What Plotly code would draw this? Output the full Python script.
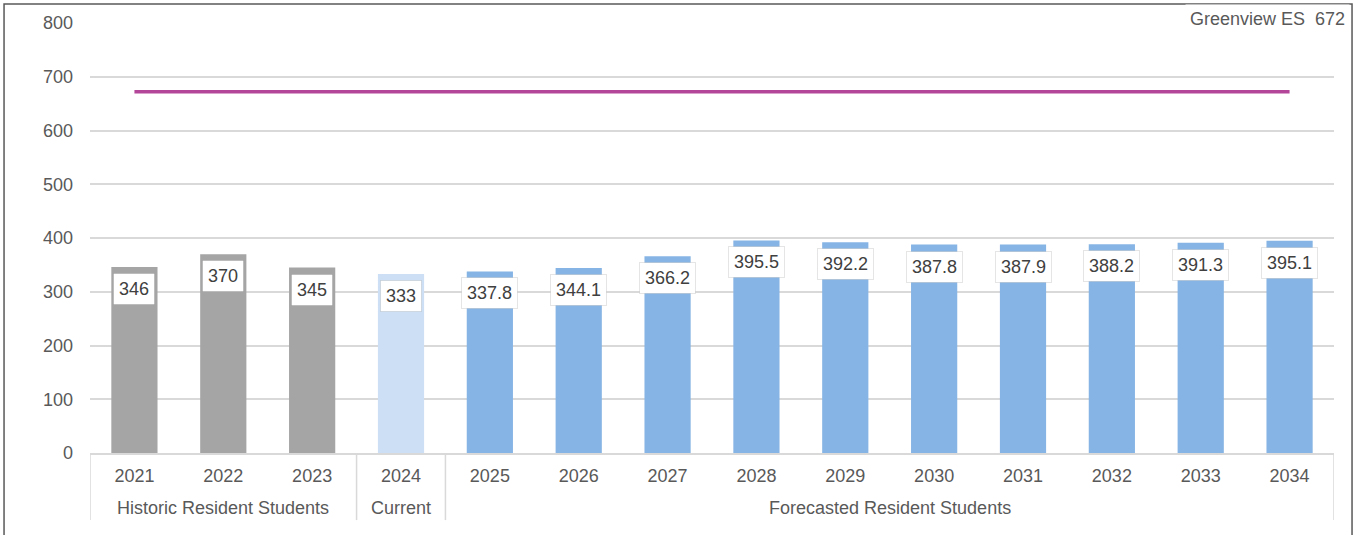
import plotly.graph_objects as go

COLORS = {
    "historic": "#A5A5A5",
    "current": "#CCDFF4",
    "forecast": "#86B4E5",
    "capacity": "#B4469A",
    "text": "#595959",
    "grid": "#D9D9D9",
}

FONT = "Liberation Sans, Arial, sans-serif"

years = ["2021", "2022", "2023", "2024", "2025", "2026", "2027",
         "2028", "2029", "2030", "2031", "2032", "2033", "2034"]
group_names = ["Historic Resident Students", "Current",
               "Forecasted Resident Students"]
group_sizes = [3, 1, 10]
students = [346, 370, 345, 333, 337.8, 344.1, 366.2,
            395.5, 392.2, 387.8, 387.9, 388.2, 391.3, 395.1]
labels = ["346", "370", "345", "333", "337.8", "344.1", "366.2",
          "395.5", "392.2", "387.8", "387.9", "388.2", "391.3", "395.1"]
capacity_name = "Greenview ES"
capacity = 672

group_colors = [COLORS["historic"], COLORS["current"], COLORS["forecast"]]
bar_colors = []
for c, n in zip(group_colors, group_sizes):
    bar_colors += [c] * n

fig = go.Figure()
fig.add_trace(go.Bar(
    x=years, y=students,
    marker=dict(color=bar_colors, line_width=0),
    showlegend=False, hoverinfo="skip",
))
fig.add_trace(go.Scatter(
    x=years, y=[capacity] * len(years),
    mode="lines", line=dict(color=COLORS["capacity"], width=3.5),
    showlegend=False, hoverinfo="skip",
))

# data label boxes just below each bar top (x given as category index)
for i, (v, t) in enumerate(zip(students, labels)):
    fig.add_annotation(
        x=i, y=v, xref="x", yref="y", text=t, showarrow=False,
        yshift=-22, bgcolor="white", bordercolor="rgba(0,0,0,0.10)",
        borderwidth=1, borderpad=5,
        font=dict(family=FONT, size=18, color="#404040"),
    )

# group labels and dividers under the year ticks
start = 0
edges = [-0.5]
for name, n in zip(group_names, group_sizes):
    fig.add_annotation(
        x=start + (n - 1) / 2, y=-0.128, xref="x", yref="paper",
        text=name, showarrow=False, yanchor="middle",
        font=dict(family=FONT, size=18, color=COLORS["text"]),
    )
    start += n
    edges.append(start - 0.5)
for e in edges:
    fig.add_shape(type="line", xref="x", yref="paper", x0=e, x1=e,
                  y0=0, y1=-0.156, line=dict(color=COLORS["grid"], width=1.5))

fig.add_annotation(
    x=1.013, y=1.009, xref="paper", yref="paper", xanchor="right",
    yanchor="middle", text=f"{capacity_name}  {capacity}", showarrow=False,
    bgcolor="white", borderpad=4,
    font=dict(family=FONT, size=18, color=COLORS["text"]),
)

# outer frame of the chart
fig.add_shape(type="rect", xref="paper", yref="paper",
              x0=-0.0691, x1=1.0145, y0=-0.25, y1=1.0442,
              line=dict(color="#595959", width=1.5), layer="below")

fig.update_layout(
    width=1357, height=535,
    margin=dict(l=90, r=23, t=23, b=82),
    plot_bgcolor="white", paper_bgcolor="white",
    bargap=0.48,
    font=dict(family=FONT, size=18, color=COLORS["text"]),
    xaxis=dict(
        type="category", range=[-0.5, len(years) - 0.5],
        showgrid=False, showline=True,
        linecolor=COLORS["grid"], linewidth=1.5, ticks="",
        tickfont=dict(family=FONT, size=18, color=COLORS["text"]),
        ticklabelstandoff=6,
    ),
    yaxis=dict(
        range=[0, 800], dtick=100, showgrid=True, gridcolor=COLORS["grid"],
        gridwidth=1.5, zeroline=False, showline=False,
        tickfont=dict(family=FONT, size=18, color=COLORS["text"]),
        ticklabelstandoff=16,
    ),
)

fig.write_html("out.html", config={"displayModeBar": False},
               post_script="document.body.style.margin='0';")
